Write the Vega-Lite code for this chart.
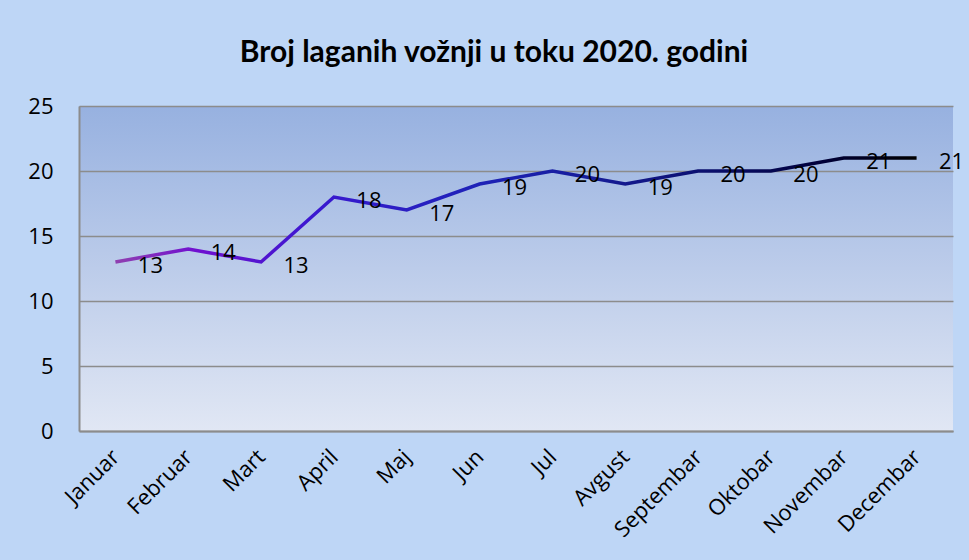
{
  "$schema": "https://vega.github.io/schema/vega-lite/v6.json",
  "autosize": {"type": "none"},
  "width": 874,
  "height": 325,
  "padding": {"left": 79, "top": 106, "right": 16, "bottom": 129},
  "background": "#BED6F6",
  "title": {
    "text": "Broj laganih vožnji u toku 2020. godini",
    "font": "Lato",
    "fontSize": 30,
    "fontWeight": "bold",
    "color": "#000000",
    "anchor": "middle",
    "dx": -22,
    "offset": 27
  },
  "config": {
    "view": {
      "fill": {
        "gradient": "linear",
        "x1": 0, "y1": 0, "x2": 0, "y2": 1,
        "stops": [
          {"offset": 0, "color": "#97B1E0"},
          {"offset": 1, "color": "#E1E7F4"}
        ]
      },
      "stroke": null
    },
    "axis": {
      "labelFont": "Open Sans",
      "labelColor": "#000000",
      "domainColor": "#8C8C8C",
      "domainWidth": 2,
      "gridColor": "#8C8C8C",
      "gridWidth": 1.5,
      "ticks": false,
      "title": null
    }
  },
  "data": {
    "values": [
      {"mjesec": "Januar", "broj": 13},
      {"mjesec": "Februar", "broj": 14},
      {"mjesec": "Mart", "broj": 13},
      {"mjesec": "April", "broj": 18},
      {"mjesec": "Maj", "broj": 17},
      {"mjesec": "Jun", "broj": 19},
      {"mjesec": "Jul", "broj": 20},
      {"mjesec": "Avgust", "broj": 19},
      {"mjesec": "Septembar", "broj": 20},
      {"mjesec": "Oktobar", "broj": 20},
      {"mjesec": "Novembar", "broj": 21},
      {"mjesec": "Decembar", "broj": 21}
    ]
  },
  "encoding": {
    "x": {
      "field": "mjesec",
      "type": "nominal",
      "sort": null,
      "scale": {"paddingInner": 0, "paddingOuter": 0},
      "axis": {
        "labelAngle": -45,
        "labelFontSize": 22,
        "labelAlign": "right",
        "labelBaseline": "middle",
        "labelPadding": 22,
        "grid": false
      }
    },
    "y": {
      "field": "broj",
      "type": "quantitative",
      "scale": {"domain": [0, 25], "nice": false},
      "axis": {
        "values": [0, 5, 10, 15, 20, 25],
        "labelFontSize": 22,
        "labelPadding": 26,
        "grid": true
      }
    }
  },
  "layer": [
    {
      "mark": {
        "type": "line",
        "strokeWidth": 3.5,
        "color": {
          "gradient": "linear",
          "x1": 0, "y1": 0, "x2": 1, "y2": 0,
          "stops": [
            {"offset": 0, "color": "#9040B0"},
            {"offset": 0.1, "color": "#7010D0"},
            {"offset": 0.25, "color": "#3A18D0"},
            {"offset": 0.45, "color": "#1E22B8"},
            {"offset": 0.6, "color": "#161C98"},
            {"offset": 0.75, "color": "#0A0E6A"},
            {"offset": 0.88, "color": "#00003A"},
            {"offset": 1, "color": "#000000"}
          ]
        }
      }
    },
    {
      "mark": {
        "type": "text",
        "font": "Open Sans",
        "fontSize": 22,
        "color": "#000000",
        "dx": 35,
        "dy": 4,
        "align": "center",
        "baseline": "middle"
      },
      "encoding": {"text": {"field": "broj", "type": "quantitative"}}
    }
  ]
}
